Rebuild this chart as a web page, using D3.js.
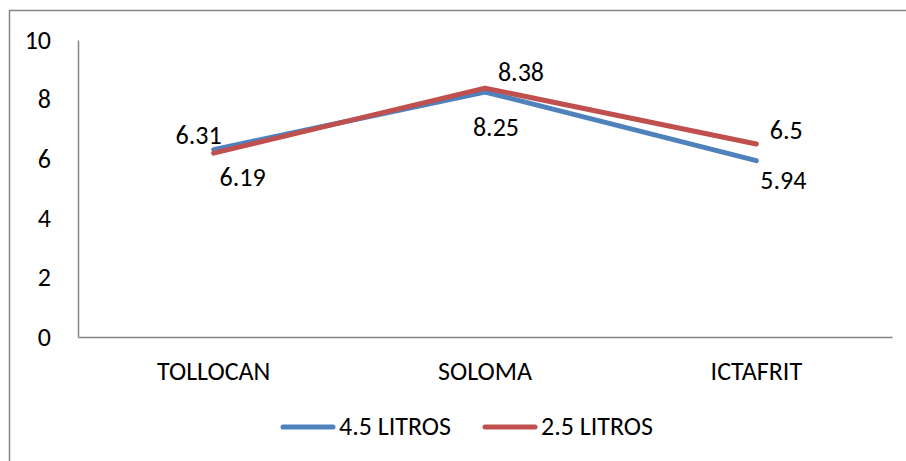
<!DOCTYPE html>
<html>
<head>
<meta charset="utf-8">
<script src="https://cdn.jsdelivr.net/npm/d3@7"></script>
<style>
  html, body { margin: 0; padding: 0; background: #fff; }
  svg text { font-family: Carlito, Calibri, Lato, "Open Sans", sans-serif; fill: #000; }
</style>
</head>
<body>
<svg id="chart" width="906" height="461"></svg>
<script>
// Categories and series
const categories = ["TOLLOCAN", "SOLOMA", "ICTAFRIT"];
const seriesNames = ["4.5 LITROS", "2.5 LITROS"];
const values45 = [6.31, 8.25, 5.94];
const values25 = [6.19, 8.38, 6.5];
const yTicks = [0, 2, 4, 6, 8, 10];
const seriesColors = ["#4f81bd", "#c0504d"];

// Label offsets (dx, dy of the text centre) per series and point
const labelOffsets = [
  [[-15, -14], [11, 36], [27, 20]],
  [[29, 24], [36, -15], [30, -13]]
];

const FONT = 26;
const CAP = 0.644 * FONT;

const svg = d3.select("#chart");
const W = 906, H = 461;

// Outer frame (extends past the right and bottom edges)
svg.append("rect")
  .attr("x", 9.5).attr("y", 10.5)
  .attr("width", W + 20).attr("height", H + 20)
  .attr("fill", "none").attr("stroke", "#868686").attr("stroke-width", 1.5);

const plot = { left: 78, right: 892, top: 40, bottom: 337 };

const x = d3.scaleBand().domain(categories).range([plot.left, plot.right]);
const y = d3.scaleLinear().domain([0, 10]).range([plot.bottom, plot.top]);

// Y axis
const yAxis = svg.append("g")
  .attr("transform", `translate(${plot.left},0)`)
  .call(d3.axisLeft(y).tickValues(yTicks).tickSize(0).tickPadding(27));
yAxis.select(".domain").attr("stroke", "#868686").attr("stroke-width", 1.5);
yAxis.selectAll("text").attr("font-size", FONT).attr("dy", null)
  .attr("dominant-baseline", "alphabetic")
  .attr("transform", `translate(0,${CAP / 2})`);

// X axis
const xAxis = svg.append("g")
  .attr("transform", `translate(0,${plot.bottom})`)
  .call(d3.axisBottom(x).tickSize(0).tickPadding(0));
xAxis.select(".domain").attr("stroke", "#868686").attr("stroke-width", 1.5);
xAxis.selectAll("text").attr("font-size", FONT).attr("dy", null).attr("y", 43);

const allSeries = [values45, values25];
const line = d3.line()
  .x((d, i) => x(categories[i]) + x.bandwidth() / 2)
  .y(d => y(d));

allSeries.forEach((vals, s) => {
  svg.append("path")
    .datum(vals)
    .attr("d", line)
    .attr("fill", "none")
    .attr("stroke", seriesColors[s])
    .attr("stroke-width", 5)
    .attr("stroke-linecap", "round")
    .attr("stroke-linejoin", "round");
});

// Data labels
allSeries.forEach((vals, s) => {
  svg.append("g").selectAll("text")
    .data(vals)
    .join("text")
    .attr("x", (d, i) => x(categories[i]) + x.bandwidth() / 2 + labelOffsets[s][i][0])
    .attr("y", (d, i) => y(d) + labelOffsets[s][i][1] + CAP / 2)
    .attr("text-anchor", "middle")
    .attr("font-size", FONT)
    .text(d => d);
});

// Legend
const legendItems = [
  { name: seriesNames[0], color: seriesColors[0], x: 283 },
  { name: seriesNames[1], color: seriesColors[1], x: 485 }
];
const legend = svg.append("g");
legendItems.forEach(it => {
  legend.append("line")
    .attr("x1", it.x).attr("x2", it.x + 50)
    .attr("y1", 427).attr("y2", 427)
    .attr("stroke", it.color).attr("stroke-width", 5)
    .attr("stroke-linecap", "round");
  legend.append("text")
    .attr("x", it.x + 56).attr("y", 427 + CAP / 2)
    .attr("font-size", FONT)
    .text(it.name);
});
</script>
</body>
</html>
